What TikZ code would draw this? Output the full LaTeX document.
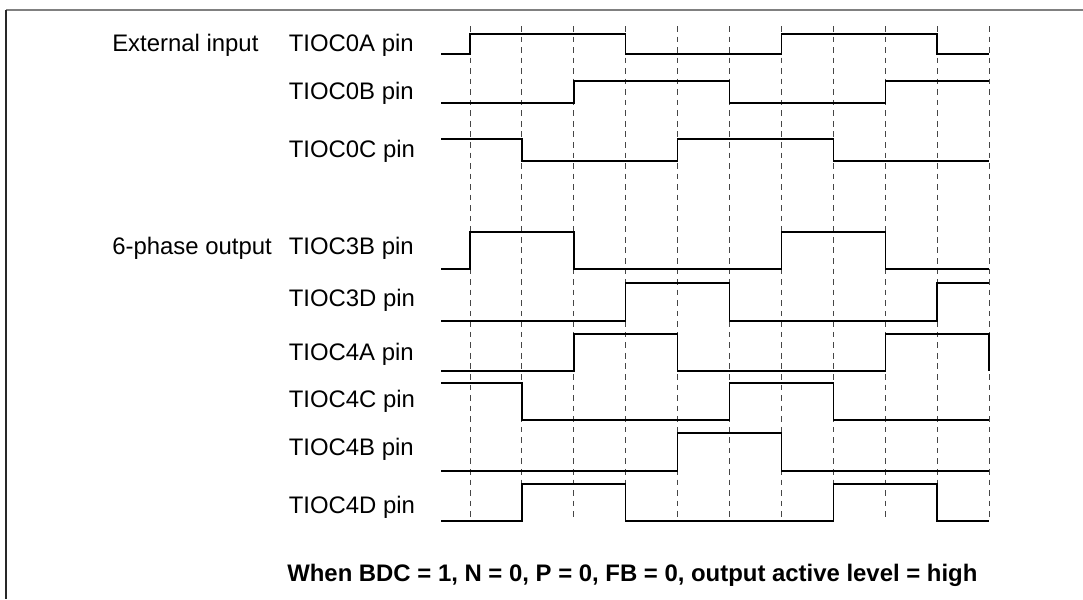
\documentclass[tikz,border=0pt]{standalone}
\usepackage{fontspec}
\setmainfont{Liberation Sans}
\definecolor{framegray}{RGB}{128,128,128}
\definecolor{framedark}{RGB}{40,40,40}
\definecolor{gridgray}{RGB}{70,70,70}
\usetikzlibrary{positioning}

\begin{document}
\begin{tikzpicture}[x=0.025cm, y=-0.025cm,
    signal/.style={line width=1pt, black},
    gridline/.style={line width=0.7pt, gridgray, dash pattern=on 4pt off 3.5pt},
    pinlabel/.style={anchor=base west, inner sep=0pt, font=\fontsize{17}{20}\selectfont},
    grouplabel/.style={pinlabel},
    caption/.style={anchor=base west, inner sep=0pt, font=\fontsize{17}{20}\selectfont\bfseries}]
  \useasboundingbox (0,0) rectangle (1083,599);

  % Frame (top and left edges only)
  \draw[framegray, line width=0.8pt] (6,10) -- (1083,10);
  \draw[framedark, line width=1pt] (6,10) -- (6,599);

  % Time grid
  \foreach \k in {0,...,10}
    \draw[gridline] ({470+51.9*\k},26) -- ({470+51.9*\k},521);

  % Group labels
  \node[grouplabel] (extin) at (112,51) {External input};
  \node[grouplabel] (sixout) at (112,254) {6-phase output};

  % Pin labels
  \node[pinlabel] (l0A) at (288.5,51) {TIOC0A pin};
  \node[pinlabel] (l0B) at (288.5,99) {TIOC0B pin};
  \node[pinlabel] (l0C) at (288.5,157.7) {TIOC0C pin};
  \node[pinlabel] (l3B) at (288.5,254) {TIOC3B pin};
  \node[pinlabel] (l3D) at (288.5,306) {TIOC3D pin};
  \node[pinlabel] (l4A) at (288.5,360) {TIOC4A pin};
  \node[pinlabel] (l4C) at (288.5,407.7) {TIOC4C pin};
  \node[pinlabel] (l4B) at (288.5,455.7) {TIOC4B pin};
  \node[pinlabel] (l4D) at (288.5,513.3) {TIOC4D pin};

  % External inputs
  \draw[signal] (441,54) -| (470,34) -| (625.7,54) -| (781.4,34) -| (937.1,54) -- (989,54);
  \draw[signal] (441,103) -| (573.8,81) -| (729.5,103) -| (885.2,81) -- (989,81);
  \draw[signal] (441,139) -| (521.9,161) -| (677.6,139) -| (833.3,161) -- (989,161);

  % 6-phase outputs
  \draw[signal] (441,269) -| (470,232) -| (573.8,269) -| (781.4,232) -| (885.2,269) -- (989,269);
  \draw[signal] (441,321) -| (625.7,283) -| (729.5,321) -| (937.1,283) -- (989,283);
  \draw[signal] (441,371) -| (573.8,334) -| (677.6,371) -| (885.2,334) -| (989,371);
  \draw[signal] (441,383) -| (521.9,420) -| (729.5,383) -| (833.3,420) -- (989,420);
  \draw[signal] (441,471) -| (677.6,433) -| (781.4,471) -- (989,471);
  \draw[signal] (441,521) -| (521.9,484) -| (625.7,521) -| (833.3,484) -| (937.1,521) -- (989,521);

  % Condition
  \node[caption] (cond) at (287,581.5) {When BDC = 1, N = 0, P = 0, FB = 0, output active level = high};
\end{tikzpicture}
\end{document}
